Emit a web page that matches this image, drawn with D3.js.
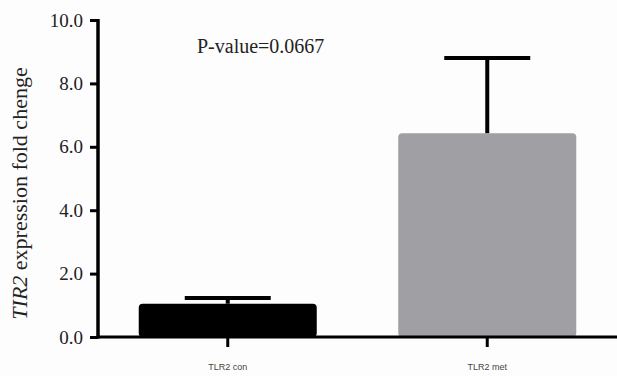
<!DOCTYPE html>
<html>
<head>
<meta charset="utf-8">
<script src="https://cdn.jsdelivr.net/npm/d3@7"></script>
<style>
  body { margin: 0; background: #fdfdfd; }
  svg { display: block; }
</style>
</head>
<body>
<svg width="617" height="376"></svg>
<script>
const categories = ['TLR2 con', 'TLR2 met'];
const means = [1.05, 6.43];
const errTop = [1.23, 8.8];
const barColors = ['#000000', '#a09fa3'];
const yTicks = [0, 2, 4, 6, 8, 10];

const svg = d3.select('svg');
const plotLeft = 98, plotRight = 617, plotTop = 20, plotBottom = 337;

const x = d3.scaleBand()
  .domain(categories)
  .range([plotLeft, plotRight])
  .paddingInner(0.314)
  .paddingOuter(0.157);

const y = d3.scaleLinear()
  .domain([0, 10])
  .range([plotBottom, plotTop]);

// bars
svg.append('g')
  .selectAll('rect')
  .data(categories)
  .enter().append('rect')
  .attr('x', d => x(d))
  .attr('y', (d, i) => y(means[i]))
  .attr('width', x.bandwidth())
  .attr('height', (d, i) => y(0) - y(means[i]))
  .attr('rx', 4)
  .attr('fill', (d, i) => barColors[i]);

// error bars
const capW = 86;
const err = svg.append('g')
  .selectAll('g')
  .data(categories)
  .enter().append('g');

err.append('line')
  .attr('x1', d => x(d) + x.bandwidth() / 2)
  .attr('x2', d => x(d) + x.bandwidth() / 2)
  .attr('y1', (d, i) => y(means[i]))
  .attr('y2', (d, i) => y(errTop[i]))
  .attr('stroke', '#000')
  .attr('stroke-width', 4);

err.append('line')
  .attr('x1', d => x(d) + x.bandwidth() / 2 - capW / 2)
  .attr('x2', d => x(d) + x.bandwidth() / 2 + capW / 2)
  .attr('y1', (d, i) => y(errTop[i]))
  .attr('y2', (d, i) => y(errTop[i]))
  .attr('stroke', '#000')
  .attr('stroke-width', 4);

// y axis
const yAxis = svg.append('g')
  .attr('transform', `translate(${plotLeft},0)`)
  .call(d3.axisLeft(y).tickValues(yTicks).tickFormat(d3.format('.1f')).tickSize(8).tickPadding(7));
yAxis.select('.domain').attr('stroke-width', 3.5).attr('d', `M0,${y(10) - 1}V${plotBottom + 1.5}`);
yAxis.selectAll('.tick line').attr('stroke-width', 3);
yAxis.selectAll('.tick text')
  .attr('font-family', '"Liberation Serif", "Times New Roman", serif')
  .attr('font-size', 19)
  .attr('fill', '#222');

// x axis
const xAxis = svg.append('g')
  .attr('transform', `translate(0,${plotBottom})`)
  .call(d3.axisBottom(x).tickSize(10).tickPadding(17));
xAxis.select('.domain').attr('stroke-width', 3).attr('d', `M${plotLeft},0H${plotRight}`);
xAxis.selectAll('.tick line').attr('stroke-width', 3);
xAxis.selectAll('.tick text')
  .attr('font-family', '"Liberation Sans", Arial, sans-serif')
  .attr('font-size', 9)
  .attr('fill', '#444');

// y label
const yl = svg.append('text')
  .attr('transform', `translate(27,${(63 + 324) / 2}) rotate(-90)`)
  .attr('text-anchor', 'middle')
  .attr('font-family', '"Liberation Serif", "Times New Roman", serif')
  .attr('font-size', 22)
  .attr('fill', '#222');
yl.append('tspan').attr('font-style', 'italic').text('TIR2');
yl.append('tspan').text(' expression fold chenge');

// p-value annotation
svg.append('text')
  .attr('x', 197)
  .attr('y', 53)
  .attr('font-family', '"Liberation Serif", "Times New Roman", serif')
  .attr('font-size', 20)
  .attr('fill', '#222')
  .text('P-value=0.0667');
</script>
</body>
</html>
